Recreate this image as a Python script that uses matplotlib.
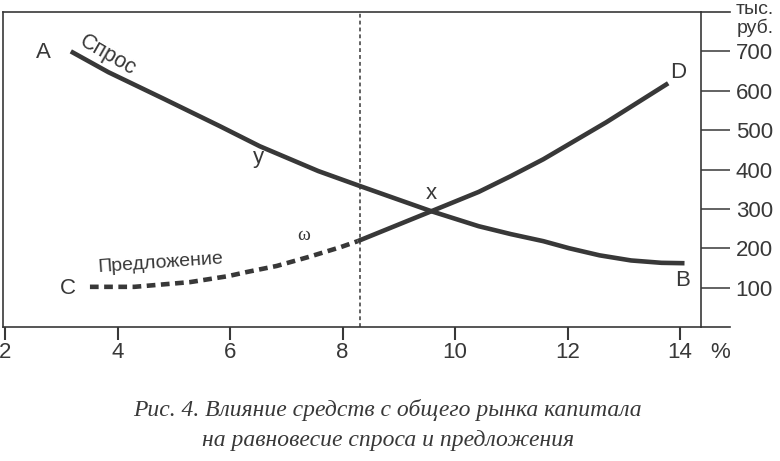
import matplotlib.pyplot as plt
from matplotlib.lines import Line2D

# values (rate %, тыс. руб.)
demand_x = [3.17, 3.84, 4.83, 5.82, 6.53, 7.57, 8.31, 9.58, 10.42, 10.99, 11.57, 12.03, 12.57, 13.13, 13.67, 14.08]
demand_y = [700, 647, 579, 510, 459, 396, 358, 294, 256, 236, 218, 200, 182, 169, 163, 162]

supply_x = [8.27, 9.58, 10.42, 10.99, 11.57, 12.69, 13.79]
supply_y = [218, 294, 343, 383, 426, 520, 619]

supply_dash_x = [3.51, 4.30, 5.29, 5.96, 6.31, 6.83, 7.40, 7.97, 8.27]
supply_dash_y = [102, 102, 114, 129, 140, 155, 178, 203, 218]

cutoff_x = 8.31

x_ticks = [2, 4, 6, 8, 10, 12, 14]
y_ticks = [100, 200, 300, 400, 500, 600, 700]

# point labels: (text, x, y)
point_labels = [('A', 2.68, 698), ('B', 14.05, 117), ('C', 3.11, 99),
                ('D', 13.97, 647), ('y', 6.5, 431), ('x', 9.58, 338)]

ink = '#383838'
plt.rcParams['font.family'] = ['Liberation Sans', 'DejaVu Sans']
plt.rcParams['text.color'] = ink

fig = plt.figure(figsize=(7.8, 4.61), dpi=100)
ax = fig.add_axes([3 / 780, 1 - 327 / 461, 698 / 780, 315 / 461])
ax.set_xlim(2 - 2 / 56.25, 14 + 21 / 56.25)
ax.set_ylim(0, 800)

ax.plot(demand_x, demand_y, color=ink, lw=3.3, solid_capstyle='butt')
ax.plot(supply_x, supply_y, color=ink, lw=3.3, solid_capstyle='butt')
ax.plot(supply_dash_x, supply_dash_y, color=ink, lw=3.3,
        linestyle=(0, (1.9, 1.2)), dash_capstyle='butt')
ax.axvline(cutoff_x, color=ink, lw=1.1, linestyle=(0, (2.5, 2)))

for s in ax.spines.values():
    s.set_color(ink)
    s.set_linewidth(1.2)

# top and bottom frame lines run past the right axis
ext = 29 / 698
for yy in (0, 1):
    ax.add_line(Line2D([1, 1 + ext], [yy, yy], transform=ax.transAxes,
                       color=ink, lw=1.2, clip_on=False))

ax.set_xticks(x_ticks)
ax.set_xticklabels([str(v) for v in x_ticks])
ax.set_yticks(y_ticks)
ax.set_yticklabels([str(v) for v in y_ticks])
ax.yaxis.tick_right()
ax.tick_params(axis='y', direction='out', length=21, width=1.1, pad=4,
               labelsize=16, colors=ink)
ax.tick_params(axis='x', direction='out', length=9, width=1.5, pad=2,
               labelsize=16, colors=ink)

for t, xx, yy in point_labels:
    ax.text(xx, yy, t, fontsize=16, ha='center', va='center')

ax.text(3.83, 690, 'Спрос', fontsize=15.5, rotation=-30, ha='center', va='center')
ax.text(4.77, 162, 'Предложение', fontsize=14, rotation=4, ha='center', va='center')
ax.text(7.31, 233, 'ω', fontsize=14, family='Liberation Serif', ha='center', va='center')

fig.text(755 / 780, 1 - 10 / 461, 'тыс.', fontsize=14, ha='center', va='center')
fig.text(755 / 780, 1 - 28 / 461, 'руб.', fontsize=14, ha='center', va='center')
fig.text(720 / 780, 1 - 352 / 461, '%', fontsize=16, ha='center', va='center')

fig.text(0.497, 1 - 410 / 461, 'Рис. 4. Влияние средств с общего рынка капитала',
         fontsize=17, style='italic', family='Liberation Serif', ha='center', va='center')
fig.text(0.497, 1 - 440 / 461, 'на равновесие спроса и предложения',
         fontsize=17, style='italic', family='Liberation Serif', ha='center', va='center')

fig.savefig('out.png', dpi=100)
